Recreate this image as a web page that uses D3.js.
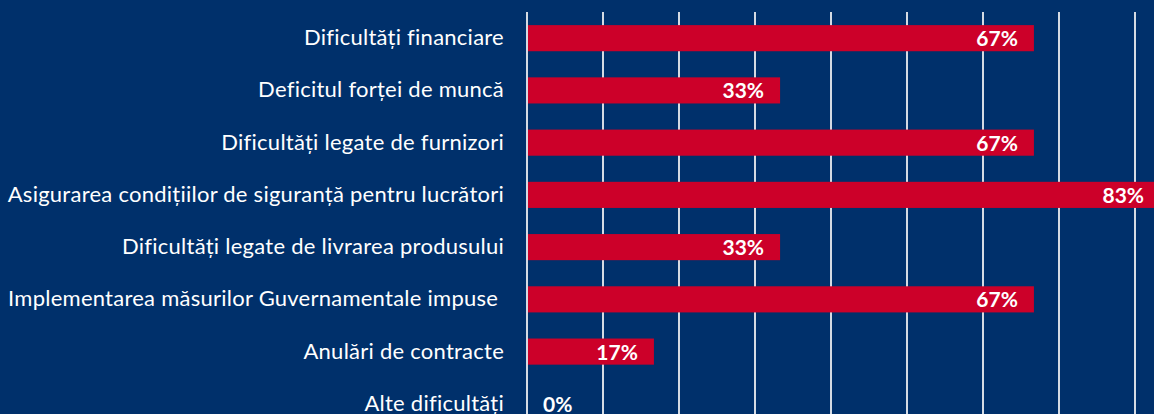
<!DOCTYPE html>
<html>
<head>
<meta charset="utf-8">
<script src="https://cdn.jsdelivr.net/npm/d3@7"></script>
<style>
  html, body { margin: 0; padding: 0; background: #00306b; }
  svg { display: block; }
  .cat { font-family: Lato, "Open Sans", sans-serif; font-size: 22px; letter-spacing: 0.25px; fill: #ffffff; }
  .val { font-family: Lato, "Open Sans", sans-serif; font-size: 21px; font-weight: bold; fill: #ffffff; }
</style>
</head>
<body>
<div id="chart"></div>
<script>
// data
const categories = [
  'Dificultăți financiare',
  'Deficitul forței de muncă',
  'Dificultăți legate de furnizori',
  'Asigurarea condițiilor de siguranță pentru lucrători',
  'Dificultăți legate de livrarea produsului',
  'Implementarea măsurilor Guvernamentale impuse ',
  'Anulări de contracte',
  'Alte dificultăți'
];
const values = [66.7, 33.3, 66.7, 83.3, 33.3, 66.7, 16.7, 0];
const valueLabels = ['67%', '33%', '67%', '83%', '33%', '67%', '17%', '0%'];
const gridTicks = [0, 10, 20, 30, 40, 50, 60, 70, 80];

const width = 1154;
const height = 414;
const x0 = 527;

let svg = d3.select('#chart').append('svg')
    .attr('width', width)
    .attr('height', height);

svg.append('rect')
    .attr('width', width)
    .attr('height', height)
    .style('fill', '#00306b');

let xScale = d3.scaleLinear()
    .domain([0, 100])
    .range([x0, x0 + 760]);

let yScale = d3.scaleBand()
    .domain(categories)
    .range([-1, 443])
    .paddingInner(0.5)
    .paddingOuter(0.5);

// gridlines
svg.append('g')
    .selectAll('line')
    .data(gridTicks)
    .enter()
    .append('line')
    .attr('x1', d => xScale(d))
    .attr('x2', d => xScale(d))
    .attr('y1', 12)
    .attr('y2', height)
    .style('stroke', '#d4dae3')
    .style('stroke-width', 2);

// bars
svg.append('g')
    .selectAll('rect')
    .data(values)
    .enter()
    .append('rect')
    .attr('x', xScale(0) + 1)
    .attr('y', (d, i) => yScale(categories[i]))
    .attr('width', d => Math.max(0, xScale(d) - xScale(0) - 1))
    .attr('height', yScale.bandwidth())
    .style('fill', '#cc0029');

// category labels
svg.append('g')
    .selectAll('text')
    .data(categories)
    .enter()
    .append('text')
    .attr('class', 'cat')
    .attr('x', 504)
    .attr('y', d => yScale(d) + yScale.bandwidth() / 2 + 7)
    .attr('text-anchor', 'end')
    .attr('xml:space', 'preserve')
    .style('white-space', 'pre')
    .text(d => d);

// value labels
svg.append('g')
    .selectAll('text')
    .data(values)
    .enter()
    .append('text')
    .attr('class', 'val')
    .attr('x', d => d > 5 ? xScale(d) - 16 : xScale(0) + 16)
    .attr('y', (d, i) => yScale(categories[i]) + yScale.bandwidth() / 2 + 8)
    .attr('text-anchor', d => d > 5 ? 'end' : 'start')
    .text((d, i) => valueLabels[i]);
</script>
</body>
</html>
